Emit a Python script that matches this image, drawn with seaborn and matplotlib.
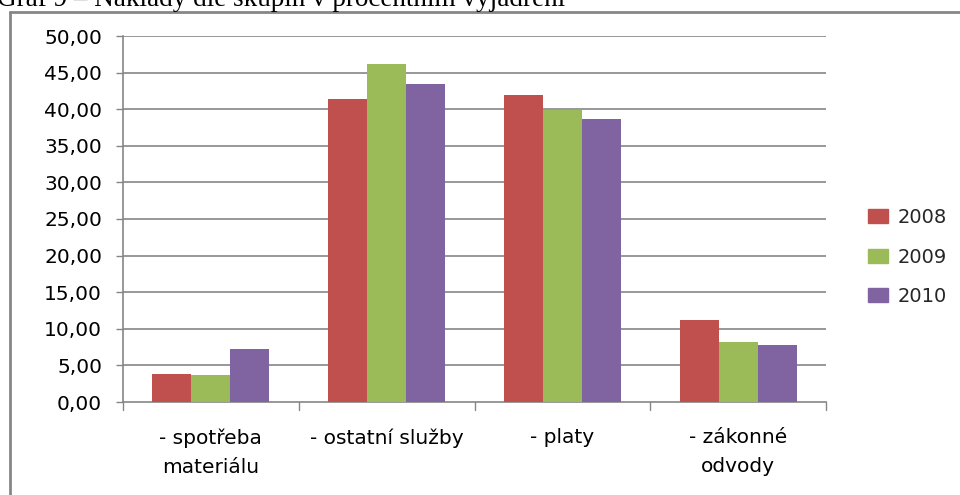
import matplotlib
matplotlib.use("Agg")
import matplotlib.pyplot as plt
import seaborn as sns
import pandas as pd
from matplotlib.lines import Line2D
from matplotlib.patches import Rectangle

categories = ["- spotřeba\nmateriálu", "- ostatní služby", "- platy", "- zákonné\nodvody"]
years = ["2008", "2009", "2010"]
v2008 = [3.83, 41.4, 41.9, 11.2]
v2009 = [3.70, 46.2, 39.9, 8.2]
v2010 = [7.24, 43.4, 38.7, 7.8]
yticks = [0, 5, 10, 15, 20, 25, 30, 35, 40, 45, 50]
ytick_labels = ["0,00", "5,00", "10,00", "15,00", "20,00", "25,00", "30,00", "35,00", "40,00", "45,00", "50,00"]
title = "Graf 9 – Náklady dle skupin v procentním vyjádření"

colors = ["#C0504D", "#9BBB59", "#8064A2"]

rows = []
for y, vals in zip(years, [v2008, v2009, v2010]):
    for c, v in zip(categories, vals):
        rows.append({"cat": c, "year": y, "val": v})
df = pd.DataFrame(rows)

sns.set_style("white")
plt.rcParams["font.family"] = ["DejaVu Sans"]

fig = plt.figure(figsize=(9.6, 4.95), dpi=100)
ax = fig.add_axes([123/960, 1 - 402/495, (826-123)/960, (402-36)/495])

sns.barplot(data=df, x="cat", y="val", hue="year", palette=colors, width=0.667,
            saturation=1, ax=ax, legend=True, zorder=3)
for p in ax.patches:
    p.set_edgecolor("none")

ax.set_ylim(0, 50)
ax.set_xlim(-0.5, 3.5)
ax.set_yticks(yticks)
ax.set_yticklabels(ytick_labels, fontsize=14.5, color="#000000")
ax.set_xticks(range(4))
ax.set_xticklabels(categories, fontsize=14.5, color="#000000", linespacing=1.65)
ax.tick_params(axis="x", length=0, pad=19)
ax.tick_params(axis="y", length=5, width=1, color="#868686", direction="out", pad=10, left=True)
ax.set_xlabel("")
ax.set_ylabel("")

for y in yticks[1:]:
    ax.axhline(y, color="#868686", lw=1.2, zorder=1)

for s in ["top", "right"]:
    ax.spines[s].set_visible(False)
ax.spines["left"].set_color("#868686")
ax.spines["bottom"].set_color("#868686")
ax.spines["left"].set_linewidth(1.2)
ax.spines["bottom"].set_linewidth(1.2)

# category separator ticks on x axis
for xb in [-0.5, 0.5, 1.5, 2.5, 3.5]:
    ax.plot([xb, xb], [0, -0.022], transform=ax.get_xaxis_transform(), color="#868686",
            lw=1, clip_on=False)

handles = [Rectangle((0, 0), 1, 1, color=c) for c in colors]
leg = fig.legend(handles, years, loc="center left", bbox_to_anchor=(850/960, 1 - 257/495),
                 frameon=False, fontsize=14, handlelength=1.05, handleheight=0.7,
                 labelspacing=1.05, handletextpad=0.5)
ax.get_legend().remove()

# outer chart border (left and top)
fig.add_artist(Line2D([10/960, 10/960], [0, 1 - 12/495], transform=fig.transFigure,
                      color="#868686", lw=2))
fig.add_artist(Line2D([10/960, 1], [1 - 12/495, 1 - 12/495], transform=fig.transFigure,
                      color="#868686", lw=2))

fig.text(-3/960, 1 - 5.5/495, title, family="Liberation Serif", fontsize=19.5, va="baseline",
         ha="left", color="#000000")

fig.savefig("out.png", dpi=100, facecolor="white")
